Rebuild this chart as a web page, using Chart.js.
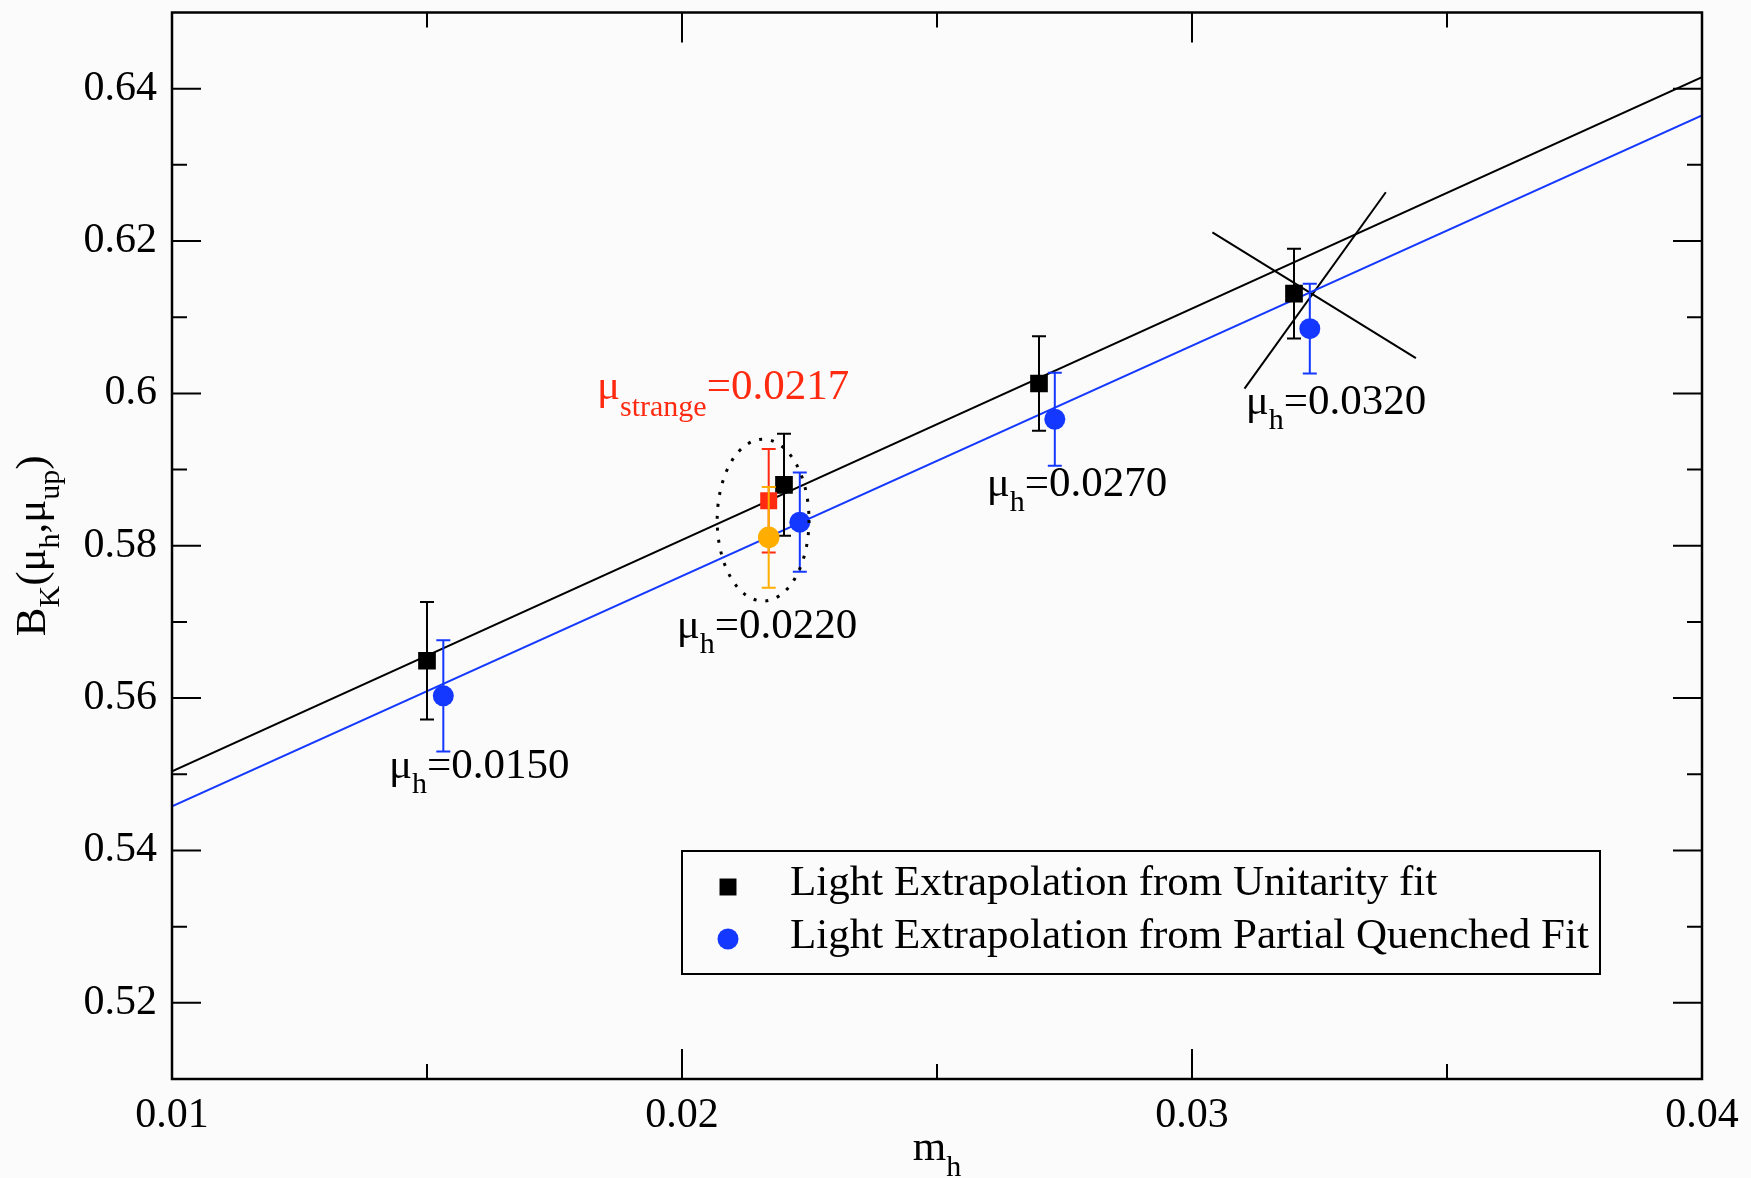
<!DOCTYPE html>
<html>
<head>
<meta charset="utf-8">
<script src="https://cdn.jsdelivr.net/npm/chart.js@4.4.1/dist/chart.umd.min.js"></script>
<style>
  html, body { margin: 0; padding: 0; background: #fbfbfb; }
  #wrap { width: 1751px; height: 1178px; }
</style>
</head>
<body>
<div id="wrap"><canvas id="chart" width="1751" height="1178"></canvas></div>
<script>
// ---------------------------------------------------------------------
// Data
// ---------------------------------------------------------------------
const unitX   = [0.0150, 0.0220, 0.0270, 0.0320];
const unitY   = [0.5649, 0.5880, 0.6013, 0.6131];
const unitErr = [0.0077, 0.0067, 0.0062, 0.0059];

const pqX   = [0.01532, 0.02231, 0.02731, 0.03231];
const pqY   = [0.5603, 0.5831, 0.5966, 0.6085];
const pqErr = [0.0073, 0.0065, 0.0061, 0.0059];

// interpolated to mu_strange = 0.0217
const strangeX      = [0.0217];
const strangeUnitY  = [0.5859];
const strangeUnitE  = [0.0068];
const strangePqY    = [0.5811];
const strangePqE    = [0.0066];

// straight fits across the whole range
const fitX      = [0.01, 0.04];
const unitFitY  = [0.5504, 0.6415];
const pqFitY    = [0.5458, 0.6365];

// the "X" drawn at mu_h = 0.0320
const crossAX = [0.03040, 0.03439];
const crossAY = [0.62115, 0.60463];
const crossBX = [0.03103, 0.03380];
const crossBY = [0.60062, 0.62640];

// dotted ellipse around the mu_strange points (centre and half axes, data units)
const ellipseC = [0.02159, 0.58337];
const ellipseR = [0.0009, 0.01062];

const pointLabels = ['0.0150', '0.0220', '0.0270', '0.0320'];
const strangeLabel = '0.0217';

const xTickValues = [0.01, 0.02, 0.03, 0.04];
const xTickLabels = ['0.01', '0.02', '0.03', '0.04'];
const xMinorTicks = [0.015, 0.025, 0.035];
const yTickValues = [0.52, 0.54, 0.56, 0.58, 0.60, 0.62, 0.64];
const yTickLabels = ['0.52', '0.54', '0.56', '0.58', '0.6', '0.62', '0.64'];
const yMinorTicks = [0.53, 0.55, 0.57, 0.59, 0.61, 0.63];

// ---------------------------------------------------------------------
// Styling / layout
// ---------------------------------------------------------------------
const FONT   = '"Liberation Serif", "Times New Roman", serif';
const BLACK  = '#000000';
const BLUE   = '#1438ff';
const RED    = '#ff2a10';
const ORANGE = '#ffae00';
const TICK_PX = 42, MAIN_PX = 43, SUB_PX = 30;

// where each text annotation starts (left / baseline, data units)
const labelAnchors = [
  [0.014255, 0.54951],
  [0.019896, 0.56791],
  [0.025975, 0.58649],
  [0.031053, 0.59725],
];
const strangeAnchor = [0.018333, 0.59921];

const pts = (xs, ys) => xs.map((x, i) => ({ x, y: ys[i] }));

function drawRich(ctx, parts, x, y, color, drop) {
  let cx = x;
  ctx.fillStyle = color;
  ctx.textAlign = 'left';
  ctx.textBaseline = 'alphabetic';
  for (const p of parts) {
    ctx.font = (p.sub ? SUB_PX : MAIN_PX) + 'px ' + FONT;
    ctx.fillText(p.t, cx, p.sub ? y + drop : y);
    cx += ctx.measureText(p.t).width;
  }
  return cx - x;
}
function richWidth(ctx, parts) {
  let w = 0;
  for (const p of parts) {
    ctx.font = (p.sub ? SUB_PX : MAIN_PX) + 'px ' + FONT;
    w += ctx.measureText(p.t).width;
  }
  return w;
}

// ---------------------------------------------------------------------
// Plugin: frame, inward ticks, error bars, ellipse, labels, legend
// ---------------------------------------------------------------------
const decor = {
  id: 'decor',
  beforeDraw(chart) {
    const ctx = chart.ctx;
    ctx.save();
    ctx.fillStyle = '#fbfbfb';
    ctx.fillRect(0, 0, chart.width, chart.height);
    ctx.restore();
  },
  afterDatasetDraw(chart, args) {
    const ds = chart.data.datasets[args.index];
    if (!ds.errorBars) return;
    const xs = chart.scales.x, ys = chart.scales.y, ctx = chart.ctx;
    ctx.save();
    ctx.strokeStyle = ds.errorColor;
    ctx.lineWidth = 2;
    ds.data.forEach((p, i) => {
      const e = ds.errorBars[i];
      const px = xs.getPixelForValue(p.x);
      const top = ys.getPixelForValue(p.y + e);
      const bot = ys.getPixelForValue(p.y - e);
      ctx.beginPath();
      ctx.moveTo(px, top); ctx.lineTo(px, bot);
      ctx.moveTo(px - 7, top); ctx.lineTo(px + 7, top);
      ctx.moveTo(px - 7, bot); ctx.lineTo(px + 7, bot);
      ctx.stroke();
    });
    ctx.restore();
  },
  afterDraw(chart) {
    const ctx = chart.ctx, ca = chart.chartArea;
    const xs = chart.scales.x, ys = chart.scales.y;
    ctx.save();

    // frame
    ctx.strokeStyle = BLACK;
    ctx.lineWidth = 2.5;
    ctx.strokeRect(ca.left, ca.top, ca.right - ca.left, ca.bottom - ca.top);

    // inward ticks on all four sides
    ctx.lineWidth = 2;
    ctx.beginPath();
    const xt = (v, len) => {
      const px = xs.getPixelForValue(v);
      ctx.moveTo(px, ca.bottom); ctx.lineTo(px, ca.bottom - len);
      ctx.moveTo(px, ca.top); ctx.lineTo(px, ca.top + len);
    };
    const yt = (v, len) => {
      const py = ys.getPixelForValue(v);
      ctx.moveTo(ca.left, py); ctx.lineTo(ca.left + len, py);
      ctx.moveTo(ca.right, py); ctx.lineTo(ca.right - len, py);
    };
    xTickValues.forEach(v => xt(v, 30));
    xMinorTicks.forEach(v => xt(v, 15));
    yTickValues.forEach(v => yt(v, 29));
    yMinorTicks.forEach(v => yt(v, 15));
    ctx.stroke();

    // dotted ellipse
    const ecx = xs.getPixelForValue(ellipseC[0]);
    const ecy = ys.getPixelForValue(ellipseC[1]);
    const erx = Math.abs(xs.getPixelForValue(ellipseC[0] + ellipseR[0]) - ecx);
    const ery = Math.abs(ys.getPixelForValue(ellipseC[1] + ellipseR[1]) - ecy);
    ctx.setLineDash([3, 9]);
    ctx.lineWidth = 3;
    ctx.beginPath();
    ctx.ellipse(ecx, ecy, erx, ery, 0, 0, Math.PI * 2);
    ctx.stroke();
    ctx.setLineDash([]);

    // mu_h labels
    pointLabels.forEach((txt, i) => {
      const a = labelAnchors[i];
      drawRich(ctx, [{ t: 'μ' }, { t: 'h', sub: true }, { t: '=' + txt }],
        xs.getPixelForValue(a[0]), ys.getPixelForValue(a[1]), BLACK, 15);
    });
    drawRich(ctx, [{ t: 'μ' }, { t: 'strange', sub: true }, { t: '=' + strangeLabel }],
      xs.getPixelForValue(strangeAnchor[0]), ys.getPixelForValue(strangeAnchor[1]), RED, 17);

    // axis titles
    const xTitle = [{ t: 'm' }, { t: 'h', sub: true }];
    const xw = richWidth(ctx, xTitle);
    drawRich(ctx, xTitle, (ca.left + ca.right) / 2 - xw / 2, 1160, BLACK, 16);

    const yTitle = [{ t: 'B' }, { t: 'K', sub: true }, { t: '(' }, { t: 'μ' }, { t: 'h', sub: true },
                    { t: ',' }, { t: 'μ' }, { t: 'up', sub: true }, { t: ')' }];
    const yw = richWidth(ctx, yTitle);
    ctx.save();
    ctx.translate(45, (ca.top + ca.bottom) / 2 + yw / 2);
    ctx.rotate(-Math.PI / 2);
    drawRich(ctx, yTitle, 0, 0, BLACK, 14);
    ctx.restore();

    // legend
    const L = { x: 682, y: 851, w: 918, h: 123 };
    ctx.fillStyle = '#fbfbfb';
    ctx.fillRect(L.x, L.y, L.w, L.h);
    ctx.strokeStyle = BLACK;
    ctx.lineWidth = 2;
    ctx.strokeRect(L.x, L.y, L.w, L.h);
    const entries = chart.data.datasets.filter(d => d.inLegend);
    entries.forEach((d, i) => {
      const cy = 887 + i * 52;
      ctx.fillStyle = d.pointBackgroundColor;
      Chart.helpers.drawPoint(ctx, {
        pointStyle: d.pointStyle, rotation: 0,
        radius: d.pointStyle === 'rect' ? 12 : 10.5, borderWidth: 0
      }, 728, cy);
      ctx.fillStyle = BLACK;
      ctx.font = MAIN_PX + 'px ' + FONT;
      ctx.textAlign = 'left';
      ctx.textBaseline = 'alphabetic';
      ctx.fillText(d.label, 790, 895 + i * 53);
    });

    ctx.restore();
  }
};

// ---------------------------------------------------------------------
// Chart
// ---------------------------------------------------------------------
const lineDs = (xs, ys, color, label) => ({
  label, data: pts(xs, ys), showLine: true, pointRadius: 0,
  borderColor: color, borderWidth: 2, fill: false, order: 10
});

new Chart(document.getElementById('chart'), {
  type: 'scatter',
  data: {
    datasets: [
      lineDs(fitX, unitFitY, BLACK, 'unitarity fit'),
      lineDs(fitX, pqFitY, BLUE, 'partially quenched fit'),
      lineDs(crossAX, crossAY, BLACK, 'cross a'),
      lineDs(crossBX, crossBY, BLACK, 'cross b'),
      {
        label: 'Light Extrapolation from Unitarity fit', inLegend: true,
        data: pts(unitX, unitY), errorBars: unitErr, errorColor: BLACK,
        pointStyle: 'rect', pointRadius: 12.5, pointBackgroundColor: BLACK,
        pointBorderWidth: 0, order: 4
      },
      {
        label: 'Light Extrapolation from Partial Quenched Fit', inLegend: true,
        data: pts(pqX, pqY), errorBars: pqErr, errorColor: BLUE,
        pointStyle: 'circle', pointRadius: 10.5, pointBackgroundColor: BLUE,
        pointBorderWidth: 0, order: 3
      },
      {
        label: 'unitarity at mu_strange',
        data: pts(strangeX, strangeUnitY), errorBars: strangeUnitE, errorColor: RED,
        pointStyle: 'rect', pointRadius: 12, pointBackgroundColor: RED,
        pointBorderWidth: 0, order: 2
      },
      {
        label: 'PQ at mu_strange',
        data: pts(strangeX, strangePqY), errorBars: strangePqE, errorColor: ORANGE,
        pointStyle: 'circle', pointRadius: 10.8, pointBackgroundColor: ORANGE,
        pointBorderWidth: 0, order: 1
      }
    ]
  },
  options: {
    responsive: false,
    animation: false,
    devicePixelRatio: 1,
    layout: { padding: { top: 9, right: 49, left: 0, bottom: 0 } },
    plugins: { legend: { display: false }, tooltip: { enabled: false } },
    scales: {
      x: {
        type: 'linear', min: 0.01, max: 0.04,
        grid: { display: false, drawTicks: false },
        border: { display: false },
        afterBuildTicks: s => { s.ticks = xTickValues.map(v => ({ value: v })); },
        afterFit: s => { s.height = 99; s.paddingLeft = 0; s.paddingRight = 0; },
        ticks: {
          autoSkip: false, maxRotation: 0, padding: 12, color: BLACK,
          font: { family: FONT, size: TICK_PX },
          callback: (v, i) => xTickLabels[i]
        }
      },
      y: {
        type: 'linear', min: 0.51, max: 0.65,
        grid: { display: false, drawTicks: false },
        border: { display: false },
        afterBuildTicks: s => { s.ticks = yTickValues.map(v => ({ value: v })); },
        afterFit: s => { s.width = 172; s.paddingTop = 0; s.paddingBottom = 0; },
        ticks: {
          autoSkip: false, padding: 15, color: BLACK,
          font: { family: FONT, size: TICK_PX },
          callback: (v, i) => yTickLabels[i]
        }
      }
    }
  },
  plugins: [decor]
});
</script>
</body>
</html>
